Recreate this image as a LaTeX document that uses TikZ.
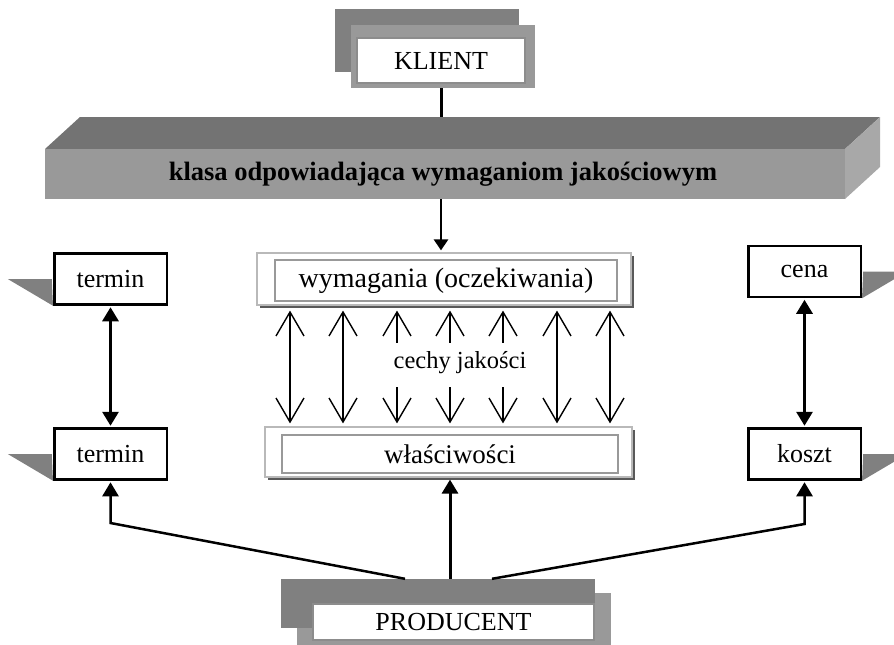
\documentclass[tikz,border=0pt]{standalone}
\usepackage{fontspec}
\setmainfont{Liberation Serif}
\usetikzlibrary{arrows.meta,shadows}
\definecolor{shadowgray}{HTML}{808080}
\definecolor{framegray}{HTML}{999999}
\definecolor{bartop}{HTML}{737373}
\definecolor{barfront}{HTML}{999999}
\definecolor{barside}{HTML}{A8A8A8}
\definecolor{edgegray}{HTML}{8C8C8C}
\begin{document}
\begin{tikzpicture}[x=1pt,y=-1pt,
  every node/.style={font=\fontsize{26}{30}\selectfont, inner sep=0pt},
  sidebox/.style={draw=black, line width=2.5pt, fill=white, minimum width=112.5pt, minimum height=51pt},
  framebox/.style={draw=gray!55, line width=1.2pt, fill=white,
    drop shadow={shadow xshift=2.5pt, shadow yshift=-2.5pt, fill=black!65, opacity=1}},
  innerbox/.style={draw=framegray, line width=2.5pt, fill=white},
  whitebox/.style={draw=edgegray, line width=1.5pt, fill=white},
  boldconn/.style={line width=3pt, -{Triangle[length=14pt,width=16pt]}},
  dualconn/.style={line width=3pt, {Triangle[length=14pt,width=16pt]}-{Triangle[length=14pt,width=16pt]}},
  featarrow/.style={line width=1.4pt},
  barb/.tip={Straight Barb[length=24pt,width=28pt]},
  wing/.style={fill=shadowgray}]
\useasboundingbox (0,0) rectangle (894,645);

% --- KLIENT: stacked box
\fill[shadowgray] (335,9) rectangle (519,72);
\node[fill=framegray, minimum width=184pt, minimum height=63pt] (klient) at (443,56.5) {};
\node[whitebox, minimum width=168pt, minimum height=45pt] (klientin) at (441,60.5) {KLIENT};

% --- 3D bar
\coordinate (bartop) at (441,117);
\coordinate (barbot) at (441,199);
\draw[line width=3pt] (klientin.south |- klient.south) -- (bartop);
\fill[bartop] (45,149) -- (80,117) -- (880,117) -- (845,149) -- cycle;
\fill[barside] (845,149) -- (880,117) -- (880,167) -- (845,199) -- cycle;
\fill[barfront] (45,149) rectangle (845,199);
\node[font=\fontsize{26.5}{30}\selectfont\bfseries] (bar) at (443,174) {klasa odpowiadająca wymaganiom jakościowym};

% --- requirements and properties
\node[framebox, minimum width=374pt, minimum height=52pt] (wym) at (444,279) {};
\node[innerbox, minimum width=342pt, minimum height=41pt, font=\fontsize{28}{32}\selectfont] (wymin) at (446,280.5) {wymagania (oczekiwania)};
\node[framebox, minimum width=367pt, minimum height=50pt] (wla) at (448.5,452) {};
\node[innerbox, minimum width=336pt, minimum height=38pt, font=\fontsize{27}{32}\selectfont] (wlain) at (450,454) {właściwości};

\draw[line width=2.5pt, -{Triangle[length=11pt,width=14pt]}, shorten >=2pt] (barbot) -- (wym.north -| barbot);

\node[font=\fontsize{24.5}{28}\selectfont] (cechy) at (460,363) {cechy jakości};

% full-length two-way arrows
\foreach \x in {290,343,557,610} {
  \coordinate (c) at (\x,0);
  \draw[featarrow, barb-barb, shorten <=5pt, shorten >=3pt] (c |- wym.south) -- (c |- wla.north);
}
% arrows interrupted by the label
\foreach \x in {397,450,503} {
  \coordinate (c) at (\x,0);
  \draw[featarrow, barb-, shorten <=5pt] (c |- wym.south) -- (c |- 0,343);
  \draw[featarrow, -barb, shorten >=3pt] (c |- 0,387) -- (c |- wla.north);
}

% --- side boxes
\node[sidebox] (termA) at (110.5,279) {termin};
\node[sidebox] (termB) at (110.5,454) {termin};
\node[sidebox] (cena) at (804.5,271.5) {cena};
\node[sidebox] (koszt) at (804.5,454) {koszt};

\fill[wing] (termA.west) ++(-1.25,0) -- ++(-44,0) -- (termA.south west) -- cycle;
\fill[wing] (termB.west) ++(-1.25,0) -- ++(-44,0) -- (termB.south west) -- cycle;
\fill[wing] (cena.east) ++(1.25,0) -- ++(44,0) -- (cena.south east) -- cycle;
\fill[wing] (koszt.east) ++(1.25,0) -- ++(44,0) -- (koszt.south east) -- cycle;

\draw[dualconn, shorten <=1.5pt, shorten >=1.5pt] (termA.south) -- (termB.north);
\draw[dualconn, shorten <=1.5pt, shorten >=1.5pt] (cena.south) -- (koszt.north);

% --- PRODUCENT: stacked box
\fill[framegray] (297,593) rectangle (611,660);
\node[fill=shadowgray, minimum width=314pt, minimum height=49pt] (prod) at (438,603.5) {};
\node[whitebox, minimum width=281pt, minimum height=36pt] (prodin) at (453.5,622) {PRODUCENT};

\coordinate (kl) at (110.5,523);
\coordinate (kr) at (804.5,524);
\draw[boldconn, line width=2.5pt, shorten >=1.5pt] (prod.north) ++(-33,0) -- (kl) -- (termB.south);
\draw[boldconn, line width=2.5pt, shorten >=1.5pt] (prod.north) ++(54,0) -- (kr) -- (koszt.south);
\draw[boldconn, shorten >=2pt] (prod.north -| wlain.south) -- (wla.south -| wlain.south);
\end{tikzpicture}
\end{document}
